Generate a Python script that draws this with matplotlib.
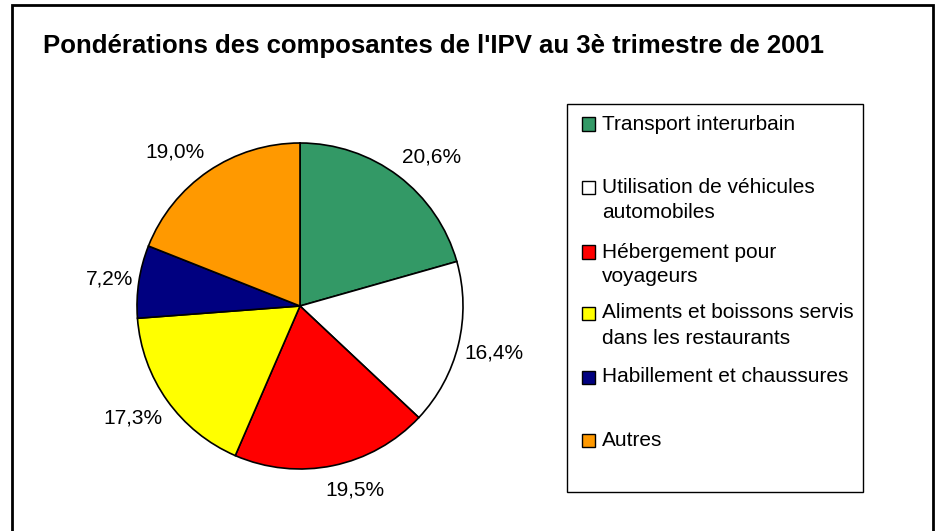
import matplotlib
matplotlib.use("Agg")
import numpy as np
import matplotlib.pyplot as plt
from matplotlib.patches import Rectangle

plt.rcParams['font.family'] = ['Liberation Sans', 'DejaVu Sans']

title = "Pondérations des composantes de l'IPV au 3è trimestre de 2001"
categories = [
    "Transport interurbain",
    "Utilisation de véhicules\nautomobiles",
    "Hébergement pour\nvoyageurs",
    "Aliments et boissons servis\ndans les restaurants",
    "Habillement et chaussures",
    "Autres",
]
values = [20.6, 16.4, 19.5, 17.3, 7.2, 19.0]
colors = ["#339966", "#FFFFFF", "#FF0000", "#FFFF00", "#000080", "#FF9900"]

W, H = 935, 531
fig = plt.figure(figsize=(W / 100, H / 100), dpi=100)
fig.patch.set_facecolor("white")

# Pie axes: center (300, 306) px, radius 163 px
cx, cy, r = 300, 306, 163
ax = fig.add_axes([(cx - r) / W, (H - cy - r) / H, 2 * r / W, 2 * r / H])
wedges, _ = ax.pie(
    values,
    colors=colors,
    startangle=90,
    counterclock=False,
    wedgeprops=dict(edgecolor="black", linewidth=1.2),
)
ax.set_xlim(-1, 1)
ax.set_ylim(-1, 1)
ax.set_aspect("equal")
ax.axis("off")

# Excel-like data labels: anchored just outside the rim, box pushed outward
total = sum(values)
renderer = fig.canvas.get_renderer()
for w, v in zip(wedges, values):
    theta = np.deg2rad((w.theta1 + w.theta2) / 2)
    c, s = np.cos(theta), np.sin(theta)
    label = f"{100 * v / total:.1f}%".replace(".", ",")
    R = 1.037
    t = ax.annotate(label, xy=(R * c, R * s), xytext=(0, 0),
                    textcoords="offset points", ha="center",
                    va="center_baseline", fontsize=15, annotation_clip=False)
    wpx = t.get_window_extent(renderer).width
    dx_px = (wpx / 2) * np.clip(3.4 * c, -1, 1)
    dy_px = 16 * np.clip(1.3 * s, -1, 1)
    t.set_position((dx_px * 0.72, dy_px * 0.72))

# Title
fig.text(43 / W, 1 - 53 / H, title, fontsize=18.5, fontweight="bold",
         ha="left", va="baseline")

# Legend box (manual)
lx0, ly0, lx1, ly1 = 567, 104, 863, 492
fig.patches.append(Rectangle((lx0 / W, 1 - ly1 / H), (lx1 - lx0) / W, (ly1 - ly0) / H,
                             transform=fig.transFigure, facecolor="white",
                             edgecolor="black", linewidth=1.0, zorder=1))
entry_y = [124, 188, 252, 313, 377, 440]
line_gap = 25
sq = 13
for cat, col, y in zip(categories, colors, entry_y):
    fig.patches.append(Rectangle((582 / W, 1 - (y + sq / 2) / H), sq / W, sq / H,
                                 transform=fig.transFigure, facecolor=col,
                                 edgecolor="black", linewidth=1.0, zorder=2))
    for i, line in enumerate(cat.split("\n")):
        fig.text(602 / W, 1 - (y + i * line_gap) / H, line, fontsize=15,
                 ha="left", va="center", zorder=3)

# Outer frame (left, top, right edges visible; bottom cropped)
fig.patches.append(Rectangle((12 / W, -10 / H), (933 - 12) / W, (H - 5 + 10) / H,
                             transform=fig.transFigure, facecolor="none",
                             edgecolor="black", linewidth=2.0, zorder=5))

fig.savefig("out.png", dpi=100)
